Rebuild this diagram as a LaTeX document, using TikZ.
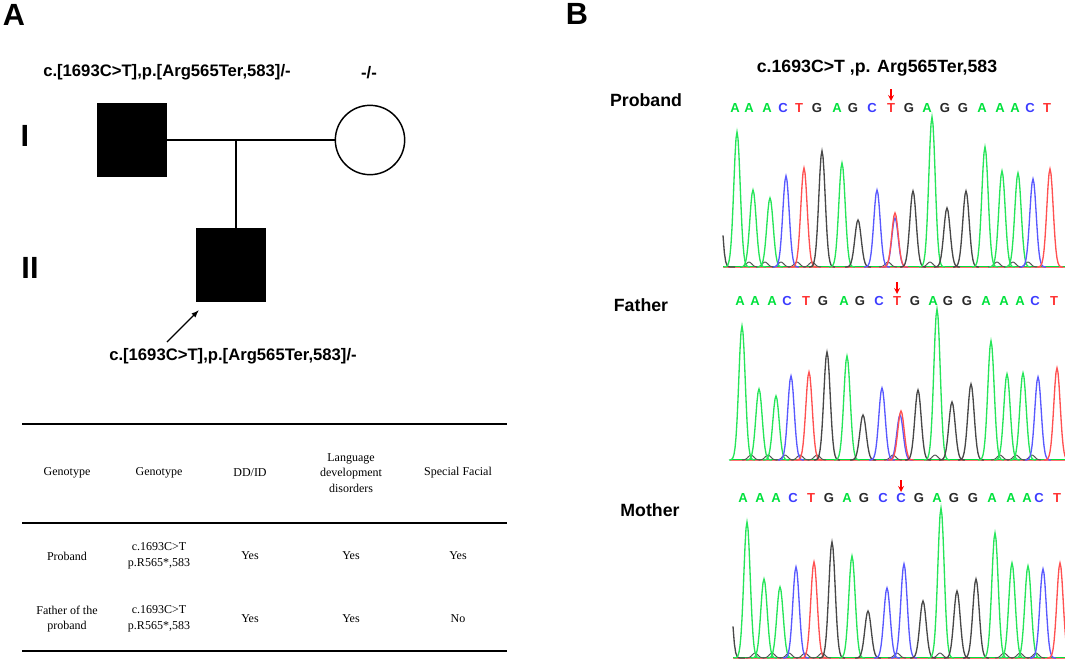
\documentclass[tikz,border=0pt]{standalone}
\usepackage{fontspec}
\setmainfont{Liberation Sans}
\newfontfamily\tabfont{Liberation Serif}
\usepackage{tikz}
\usetikzlibrary{arrows}

\definecolor{seqA}{RGB}{0,225,60}
\definecolor{seqC}{RGB}{60,60,255}
\definecolor{seqG}{RGB}{40,40,40}
\definecolor{seqT}{RGB}{255,50,50}

\begin{document}
\begin{tikzpicture}[x=0.75pt,
            y=-0.75pt,
            >=latex,
            line width=0.9pt,
            panel/.style={font=\fontsize{23}{26}\selectfont\bfseries},
            geno/.style={font=\fontsize{12.5}{15}\selectfont\bfseries},
            who/.style={font=\fontsize{13.3}{16}\selectfont\bfseries},
            affected/.style={draw, fill=black, minimum width=52pt, minimum height=55pt, inner sep=0pt},
            unaffected/.style={draw, circle, line width=1.1pt, minimum size=52pt, inner sep=0pt},
            cell/.style={font=\tabfont\fontsize{9}{11.6}\selectfont, align=center},
            rule/.style={line width=1.5pt},
            nt/.style={font=\fontsize{9.8}{11}\selectfont\bfseries, inner sep=0pt},
            trace/.style={line width=1pt},
            mut/.style={red, line width=1pt, ->, >=stealth}]

        \useasboundingbox (0,0) rectangle (1065,662);

        % panel A: pedigree
        \node[panel]      (A)      at (14,15)   {A};
        \node[panel]      (genI)   at (25,136)  {I};
        \node[panel]      (genII)  at (30,268)  {II};
        \node[geno]       (geno1)  at (167,72)  {c.[1693C>T],p.[Arg565Ter,583]/-};
        \node[geno]       (geno2)  at (369,73)  {-/-};
        \node[affected]   (father) at (132,140) {};
        \node[unaffected] (mother) at (370,140) {};
        \node[affected]   (son)    at (231,265) {};
        \node[geno]       (geno3)  at (233,356) {c.[1693C>T],p.[Arg565Ter,583]/-};

        \coordinate (mid)     at (236,140);
        \coordinate (pointer) at (167,342);

        \draw (father.east) -- (mother.west);
        \draw (mid) -- (mid |- son.north);
        \draw[->] (pointer) -- ([shift={(3,8)}]son.south west);

        % table
        \draw[rule] (22,424) -- (507,424);
        \draw[rule] (22,523) -- (507,523);
        \draw[rule] (22,651) -- (507,651);

        \foreach \cx/\txt [count=\i] in {67/Genotype, 159/Genotype, 250/DD\slash ID,
                351/{Language\\development\\disorders}, 458/Special Facial}
            \node[cell] (h\i) at (\cx,473) {\txt};
        \foreach \cx/\txt [count=\i] in {67/Proband, 159/{c.1693C>T\\p.R565*,583},
                250/Yes, 351/Yes, 458/Yes}
            \node[cell] (p\i) at (\cx,556) {\txt};
        \foreach \cx/\txt [count=\i] in {67/{Father of the\\proband}, 159/{c.1693C>T\\p.R565*,583},
                250/Yes, 351/Yes, 458/No}
            \node[cell] (f\i) at (\cx,619) {\txt};

        % panel B: sequencing traces
        \node[panel] (B)       at (577,14)  {B};
        \node[who]   (title)   at (877,68)  {c.1693C>T ,p. Arg565Ter,583};
        \node[who]   (proband) at (646,100) {Proband};
        \node[who]   (dad)     at (641,305) {Father};
        \node[who]   (mum)     at (650,510) {Mother};

        % proband
        \foreach \lx/\lb [count=\i] in {735/A,749/A,767/A,783/C,799/T,817/G,837/A,853/G,872/C,891/T,
                909/G,927/A,945/G,963/G,982/A,1000/A,1015/A,1030/C,1047/T}
            \node[nt, text=seq\lb] (a\i) at (\lx,108) {\lb};
        \draw[mut] (891,89) -- (891,101);
        \draw[seqA, line width=0.6pt] (723,266.5) -- (1065,266.5);
        \draw[seqT!70, line width=0.6pt] (723,267) -- (1065,267);
        \foreach \px in {749,765,781,797,812,888,930,997,1013,1028}
            \draw[seqG!80, line width=0.7pt] plot[domain=\px-9:\px+9, samples=15]
                (\x, {267-5*exp(-((\x-\px)/4)^2)});
        \draw[trace, seqG!85] plot[domain=723:735, samples=10] (\x, {267-115*exp(-((\x-718)/4.4)^2)});
        \foreach \px/\py/\pb in {737/132/A,753/190/A,770/198/A,786/176/C,804/168/T,822/151/G,
                842/163/A,858/220/G,877/190/C,895/218/C,895/213/T,913/191/G,932/117/A,947/208/G,
                966/191/G,985/147/A,1002/171/A,1018/173/A,1033/179/C,1050/169/T}
            \draw[trace, seq\pb!85] plot[domain=\px-13:\px+13, samples=27]
                (\x, {267-(267-\py)*exp(-((\x-\px)/4.5)^2)});

        % father
        \foreach \lx/\lb [count=\i] in {740/A,755/A,772/A,787/C,806/T,823/G,844/A,860/G,879/C,897/T,
                915/G,933/A,948/G,967/G,986/A,1004/A,1020/A,1035/C,1054/T}
            \node[nt, text=seq\lb] (b\i) at (\lx,301) {\lb};
        \draw[mut] (897,282) -- (897,294);
        \draw[seqA, line width=0.6pt] (730,459.5) -- (1065,459.5);
        \draw[seqT!70, line width=0.6pt] (730,460) -- (1065,460);
        \foreach \px in {751,768,785,800,817,893,935,1000,1016,1032}
            \draw[seqG!80, line width=0.7pt] plot[domain=\px-9:\px+9, samples=15]
                (\x, {460-5*exp(-((\x-\px)/4)^2)});
        \foreach \px/\py/\pb in {742/326/A,759/389/A,776/396/A,791/376/C,809/372/T,827/352/G,
                847/356/A,863/415/G,882/388/C,900/415/C,901/411/T,918/390/G,937/309/A,952/402/G,
                971/384/G,991/341/A,1007/374/A,1023/373/A,1038/377/C,1057/368/T}
            \draw[trace, seq\pb!85] plot[domain=\px-13:\px+13, samples=27]
                (\x, {460-(460-\py)*exp(-((\x-\px)/4.5)^2)});

        % mother
        \foreach \lx/\lb [count=\i] in {743/A,760/A,776/A,793/C,811/T,829/G,847/A,864/G,883/C,901/C,
                919/G,937/A,954/G,973/G,992/A,1011/A,1027/A,1039/C,1057/T}
            \node[nt, text=seq\lb] (c\i) at (\lx,498) {\lb};
        \draw[mut] (901,480) -- (901,492);
        \draw[seqA, line width=0.6pt] (733,657.5) -- (1065,657.5);
        \draw[seqT!70, line width=0.6pt] (733,658) -- (1065,658);
        \foreach \px in {755,772,789,805,822,897,940,1004,1020,1036}
            \draw[seqG!80, line width=0.7pt] plot[domain=\px-9:\px+9, samples=15]
                (\x, {658-5*exp(-((\x-\px)/4)^2)});
        \draw[trace, seqG!85] plot[domain=733:745, samples=10] (\x, {658-115*exp(-((\x-728)/4.4)^2)});
        \foreach \px/\py/\pb in {747/522/A,764/579/A,780/587/A,796/567/C,814/562/T,832/542/G,
                852/556/A,868/611/G,887/588/C,904/564/C,923/601/G,941/508/A,957/591/G,
                976/579/G,995/533/A,1012/563/A,1028/566/A,1043/569/C,1060/563/T}
            \draw[trace, seq\pb!85] plot[domain=\px-13:\px+13, samples=27]
                (\x, {658-(658-\py)*exp(-((\x-\px)/4.5)^2)});

\end{tikzpicture}
\end{document}
